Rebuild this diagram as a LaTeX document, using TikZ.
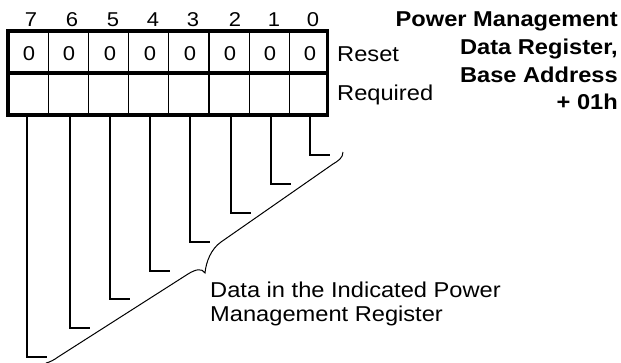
\documentclass[tikz,border=0pt]{standalone}
\usepackage{fontspec}
\setmainfont[FakeStretch=1.1]{Liberation Sans}

\tikzset{
  txt/.style={font=\fontsize{21.5bp}{23.4bp}\selectfont,inner sep=0pt},
  bitnum/.style={txt,font=\fontsize{20bp}{23bp}\selectfont,anchor=base},
  leader/.style={line width=1.3bp},
}

\begin{document}
\begin{tikzpicture}[x=1bp,y=-1bp]
    \useasboundingbox (0,0) rectangle (621,362);
    % register, two rows of eight cells
    \draw[line width=1.2bp] (48.2,31)--(48.2,115) (88.4,31)--(88.4,115) (128.6,31)--(128.6,115)
        (168.8,31)--(168.8,115) (209,31)--(209,115) (249.2,31)--(249.2,115) (289.4,31)--(289.4,115);
    \draw[line width=3.6bp] (8,31) rectangle (327.5,115);
    \draw[line width=3.6bp] (8,73)--(327.5,73);
    % bit numbers
    \node[bitnum] (n7) at (31,26.5){7};
    \node[bitnum] (n6) at (72,26.5){6};
    \node[bitnum] (n5) at (113,26.5){5};
    \node[bitnum] (n4) at (153,26.5){4};
    \node[bitnum] (n3) at (193,26.5){3};
    \node[bitnum] (n2) at (235,26.5){2};
    \node[bitnum] (n1) at (274,26.5){1};
    \node[bitnum] (n0) at (313,26.5){0};
    % reset values
    \node[bitnum] (z7) at (29,60){0};
    \node[bitnum] (z6) at (69,60){0};
    \node[bitnum] (z5) at (110,60){0};
    \node[bitnum] (z4) at (150,60){0};
    \node[bitnum] (z3) at (190,60){0};
    \node[bitnum] (z2) at (230,60){0};
    \node[bitnum] (z1) at (270,60){0};
    \node[bitnum] (z0) at (310,60){0};
    \node[txt,anchor=base west] (reset) at (337,61){Reset};
    \node[txt,anchor=base west] (req) at (337,100){Required};
    \node[txt,font=\fontsize{21.5bp}{27.8bp}\selectfont\bfseries,align=right,anchor=north east] (title) at (618,11.6)
        {Power Management\\Data Register,\\Base Address\\+ 01h};
    % leaders from each bit
    \coordinate (t7) at (27,116);  \coordinate (e7) at (47,357);
    \coordinate (t6) at (70,116);  \coordinate (e6) at (90,328);
    \coordinate (t5) at (110,116); \coordinate (e5) at (130,299);
    \coordinate (t4) at (150,116); \coordinate (e4) at (170,271);
    \coordinate (t3) at (190,116); \coordinate (e3) at (210,242);
    \coordinate (t2) at (231,116); \coordinate (e2) at (251,213);
    \coordinate (t1) at (271,116); \coordinate (e1) at (291,184);
    \coordinate (t0) at (310,116); \coordinate (e0) at (330,155);
    \draw[leader] (t7) |- (e7);
    \draw[leader] (t6) |- (e6);
    \draw[leader] (t5) |- (e5);
    \draw[leader] (t4) |- (e4);
    \draw[leader] (t3) |- (e3);
    \draw[leader] (t2) |- (e2);
    \draw[leader] (t1) |- (e1);
    \draw[leader] (t0) |- (e0);
    % brace
    \coordinate (brtop) at (343,152);
    \coordinate (brtip) at (205,273);
    \coordinate (brbot) at (46,363);
    \draw[line width=1bp] (brtop) .. controls (343,158) and (338,161) .. (333,164) -- (221,242)
        .. controls (211,249) and (206,262) .. (brtip)
        .. controls (202,268) and (196,269) .. (188,274) -- (58,357)
        .. controls (54,360) and (50,362) .. (brbot);
    \node[txt,align=left,anchor=north west] (data) at (210,282)
        {Data in the Indicated Power\\Management Register};
\end{tikzpicture}
\end{document}
